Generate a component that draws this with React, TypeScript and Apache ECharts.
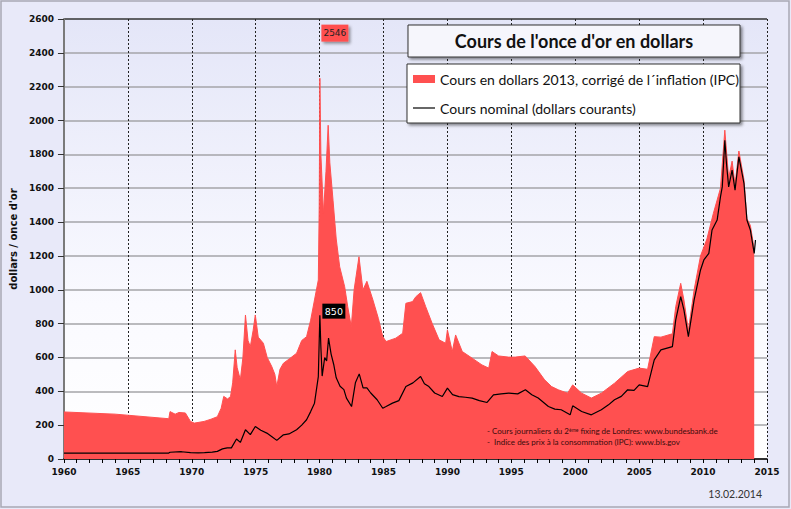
import * as echarts from "echarts";
import { useEffect, useRef } from "react";

// [année, cours]
const realPrice: [number, number][] = [
  [1960, 278], [1964, 265], [1968.2, 238], [1968.3, 280], [1968.7, 265],
  [1969.0, 275], [1969.5, 272], [1969.9, 222], [1970.2, 212], [1970.96, 222],
  [1971.5, 235], [1972.0, 250], [1972.3, 300], [1972.5, 370], [1972.8, 355],
  [1973.03, 369], [1973.2, 450], [1973.4, 645], [1973.55, 540], [1973.8, 468],
  [1974.0, 600], [1974.2, 851], [1974.4, 700], [1974.58, 664], [1974.8, 760],
  [1974.97, 851], [1975.2, 720], [1975.6, 684], [1975.9, 600], [1976.26, 546],
  [1976.5, 500], [1976.65, 428], [1976.9, 530], [1977.17, 566], [1977.6, 590],
  [1978.2, 625], [1978.6, 700], [1978.98, 723], [1979.3, 820], [1979.6, 940],
  [1979.9, 1058], [1979.97, 1500], [1980.02, 2250], [1980.1, 1800], [1980.3, 1450],
  [1980.5, 1700], [1980.67, 1972], [1980.8, 1750], [1981.05, 1529], [1981.3, 1300],
  [1981.57, 1136], [1981.96, 1018], [1982.2, 900], [1982.48, 782], [1982.7, 1000],
  [1983.08, 1195], [1983.39, 999], [1983.7, 1050], [1984.17, 940], [1984.6, 830],
  [1984.94, 723], [1985.2, 694], [1985.96, 714], [1986.5, 743], [1986.75, 920],
  [1987.27, 930], [1987.53, 959], [1987.9, 983], [1988.3, 900], [1988.8, 802],
  [1989.35, 704], [1989.86, 684], [1990.0, 763], [1990.38, 635], [1990.64, 733],
  [1991.16, 635], [1991.93, 596], [1992.7, 556], [1993.23, 537], [1993.49, 635],
  [1994.0, 609], [1994.78, 602], [1995.3, 602], [1996.08, 609], [1996.85, 546],
  [1997.6, 468], [1998.15, 428], [1998.67, 409], [1999.4, 389], [1999.8, 438],
  [2000.5, 389], [2001.26, 360], [2002.04, 389], [2003.07, 448], [2004.1, 517],
  [2005.0, 537], [2005.66, 530], [2006.18, 723], [2006.7, 720], [2007.6, 740],
  [2007.86, 900], [2008.25, 1038], [2008.5, 940], [2008.85, 760], [2009.3, 1000],
  [2009.8, 1200], [2010.3, 1300], [2010.8, 1450], [2011.36, 1600], [2011.7, 1943],
  [2012.0, 1660], [2012.27, 1760], [2012.5, 1620], [2012.8, 1820], [2013.2, 1650],
  [2013.43, 1420], [2013.7, 1380], [2014.0, 1240],
];

const nominalPrice: [number, number][] = [
  [1960, 35], [1968.2, 35], [1968.3, 40], [1969.2, 43], [1969.9, 38],
  [1970.5, 36], [1971.0, 38], [1971.6, 41], [1972.0, 45], [1972.4, 60],
  [1972.77, 66], [1973.1, 66], [1973.5, 118], [1973.8, 98], [1974.2, 173],
  [1974.58, 144], [1974.97, 192], [1975.4, 170], [1975.87, 153], [1976.3, 130],
  [1976.65, 110], [1977.17, 143], [1977.6, 148], [1978.2, 173], [1978.6, 200],
  [1978.98, 232], [1979.3, 280], [1979.6, 330], [1979.9, 487], [1980.02, 850],
  [1980.1, 660], [1980.2, 490], [1980.4, 600], [1980.55, 580], [1980.7, 714],
  [1980.9, 620], [1981.1, 560], [1981.3, 480], [1981.6, 430], [1981.9, 410],
  [1982.1, 360], [1982.5, 310], [1982.8, 450], [1983.1, 503], [1983.4, 420],
  [1983.7, 420], [1984.0, 390], [1984.5, 350], [1984.94, 300], [1985.2, 310],
  [1985.7, 330], [1986.2, 345], [1986.75, 428], [1987.3, 450], [1987.9, 487],
  [1988.2, 445], [1988.55, 428], [1989.0, 390], [1989.6, 369], [1990.0, 419],
  [1990.4, 380], [1990.9, 369], [1991.4, 365], [1991.93, 360], [1992.5, 345],
  [1993.1, 334], [1993.6, 379], [1994.2, 385], [1994.8, 389], [1995.5, 385],
  [1996.1, 409], [1996.6, 380], [1997.1, 360], [1997.9, 310], [1998.4, 295],
  [1998.9, 291], [1999.6, 261], [1999.8, 314], [2000.5, 281], [2001.26, 261],
  [2002.04, 291], [2002.6, 320], [2003.07, 350], [2003.6, 370], [2004.1, 409],
  [2004.6, 405], [2005.0, 438], [2005.66, 428], [2006.18, 586], [2006.7, 645],
  [2007.6, 664], [2007.86, 822], [2008.25, 959], [2008.5, 881], [2008.85, 723],
  [2009.3, 940], [2009.8, 1117], [2010.06, 1176], [2010.45, 1215], [2010.7, 1353],
  [2011.1, 1412], [2011.36, 1549], [2011.5, 1608], [2011.7, 1884], [2011.83, 1746],
  [2012.0, 1608], [2012.27, 1707], [2012.5, 1589], [2012.8, 1785], [2013.2, 1628],
  [2013.43, 1412], [2013.7, 1353], [2014.0, 1215], [2014.1, 1294],
];

const realMax: [number, number] = [1980.02, 2546];
const nominalMax: [number, number] = [1980.02, 850];

const seriesNames = [
  "Cours en dollars 2013, corrigé de l´inflation (IPC)",
  "Cours nominal (dollars courants)",
];
const sourceLines = [
  "- Cours journaliers du 2{sup|ème} fixing de Londres: www.bundesbank.de",
  "-  Indice des prix à la consommation (IPC): www.bls.gov",
];

const RED = "#ff5050";

export default function App() {
  const chartRef = useRef<HTMLDivElement>(null);

  useEffect(() => {
    document.body.style.margin = "0";
    const chart = echarts.init(chartRef.current, null, { renderer: "svg" });

    // couleurs des lignes horizontales : la dernière (2600) plus foncée
    const hLineColors = new Array(14).fill("#a4a4a8");
    hLineColors[13] = "#333";

    const option = {
      animation: false,
      backgroundColor: "#e8e9f9",
      title: {
        text: "Cours de l'once d'or en dollars",
        left: 574,
        top: 41,
        textAlign: "center",
        textVerticalAlign: "middle",
        padding: 0,
        z: 12,
        textStyle: { fontFamily: "Lato", fontWeight: "bold", fontSize: 18, color: "#111" },
      },
      legend: {
        orient: "vertical",
        left: 413,
        top: 70,
        itemGap: 11,
        itemWidth: 22,
        itemHeight: 8,
        padding: 0,
        z: 12,
        selectedMode: false,
        textStyle: { fontFamily: "Lato", fontSize: 14, color: "#111", lineHeight: 18 },
        data: [
          { name: seriesNames[0], icon: "rect" },
          { name: seriesNames[1], icon: "path://M0,0 L22,0 L22,1.2 L0,1.2 Z" },
        ],
      },
      grid: {
        left: 59,
        right: 24,
        top: 19,
        bottom: 50,
        show: true,
        borderWidth: 0,
        backgroundColor: new echarts.graphic.LinearGradient(0, 0, 0, 1, [
          { offset: 0, color: "#e4e6f8" },
          { offset: 0.65, color: "#fafaff" },
          { offset: 1, color: "#ffffff" },
        ]),
      },
      xAxis: {
        type: "value",
        min: 1960,
        max: 2015,
        interval: 5,
        axisLine: { lineStyle: { color: "#000", width: 1.5 } },
        axisTick: { show: true, length: 4, lineStyle: { color: "#000" } },
        minorTick: { show: true, splitNumber: 5, length: 4, lineStyle: { color: "#000" } },
        axisLabel: {
          formatter: (v: number) => String(v),
          fontFamily: "DejaVu Sans",
          fontWeight: "bold",
          fontSize: 9,
          color: "#111",
          margin: 8,
        },
        splitLine: { show: true, lineStyle: { color: "#222", width: 1, type: [2, 2] } },
      },
      yAxis: {
        type: "value",
        min: 0,
        max: 2600,
        interval: 200,
        name: "dollars / once d'or",
        nameLocation: "middle",
        nameGap: 44,
        nameRotate: 90,
        nameTextStyle: { fontFamily: "DejaVu Sans", fontWeight: "bold", fontSize: 10, color: "#111" },
        axisLine: { show: true, lineStyle: { color: "#7a7a7a", width: 2 } },
        axisTick: { show: true, length: 6, lineStyle: { color: "#333" } },
        axisLabel: {
          formatter: (v: number) => String(v),
          fontFamily: "DejaVu Sans",
          fontWeight: "bold",
          fontSize: 9,
          color: "#111",
          margin: 10,
        },
        splitLine: { show: true, lineStyle: { color: hLineColors, width: 1.5 } },
      },
      graphic: [
        {
          type: "rect",
          z: 10,
          shape: { x: 1, y: 1, width: 788, height: 506 },
          style: { fill: "none", stroke: "#a8a8b4", lineWidth: 1.5 },
        },
        {
          type: "rect",
          z: 10,
          shape: { x: 408, y: 25, width: 332, height: 32 },
          style: {
            fill: "#f6f6fc",
            stroke: "#333",
            lineWidth: 1,
            shadowBlur: 3,
            shadowOffsetX: 2,
            shadowOffsetY: 2,
            shadowColor: "rgba(0,0,0,0.45)",
          },
        },
        {
          type: "rect",
          z: 10,
          shape: { x: 407, y: 64, width: 333, height: 59 },
          style: {
            fill: "#ffffff",
            stroke: "#333",
            lineWidth: 1,
            shadowBlur: 3,
            shadowOffsetX: 2,
            shadowOffsetY: 2,
            shadowColor: "rgba(0,0,0,0.45)",
          },
        },
        ...sourceLines.map((t, i) => ({
          type: "text",
          z: 10,
          x: 487,
          y: 431 + i * 10.5,
          style: {
            text: t,
            fontFamily: "Lato",
            fontSize: 8,
            fill: "#3a0c0c",
            verticalAlign: "middle",
            rich: {
              sup: { fontFamily: "Lato", fontSize: 5, fill: "#3a0c0c", verticalAlign: "top" },
            },
          },
        })),
        {
          type: "text",
          z: 10,
          x: 762,
          y: 494,
          style: {
            text: "13.02.2014",
            fontFamily: "Lato",
            fontSize: 10.5,
            fill: "#333",
            align: "right",
            verticalAlign: "middle",
          },
        },
      ],
      series: [
        {
          name: seriesNames[0],
          type: "line",
          data: realPrice,
          symbol: "none",
          z: 2,
          itemStyle: { color: RED },
          lineStyle: { color: RED, width: 1 },
          areaStyle: { color: RED, opacity: 1 },
          markPoint: {
            symbol: "rect",
            symbolSize: [27, 17],
            symbolOffset: [15, 5],
            itemStyle: {
              color: RED,
              shadowBlur: 3,
              shadowOffsetX: 2,
              shadowOffsetY: 2,
              shadowColor: "rgba(0,0,0,0.4)",
            },
            label: { show: true, position: "inside", fontFamily: "DejaVu Sans", fontSize: 9, color: "#222" },
            data: [{ coord: realMax, value: realMax[1] }],
          },
        },
        {
          name: seriesNames[1],
          type: "line",
          data: nominalPrice,
          symbol: "none",
          z: 3,
          itemStyle: { color: "#000" },
          lineStyle: { color: "#000", width: 1.2 },
          markPoint: {
            symbol: "rect",
            symbolSize: [23, 15],
            symbolOffset: [14, -4],
            itemStyle: { color: "#000" },
            label: { show: true, position: "inside", fontFamily: "DejaVu Sans", fontSize: 9.5, color: "#fff" },
            data: [{ coord: nominalMax, value: nominalMax[1] }],
          },
        },
      ],
    };

    chart.setOption(option);
    return () => {
      chart.dispose();
    };
  }, []);

  return <div ref={chartRef} style={{ width: 791, height: 509 }} />;
}
